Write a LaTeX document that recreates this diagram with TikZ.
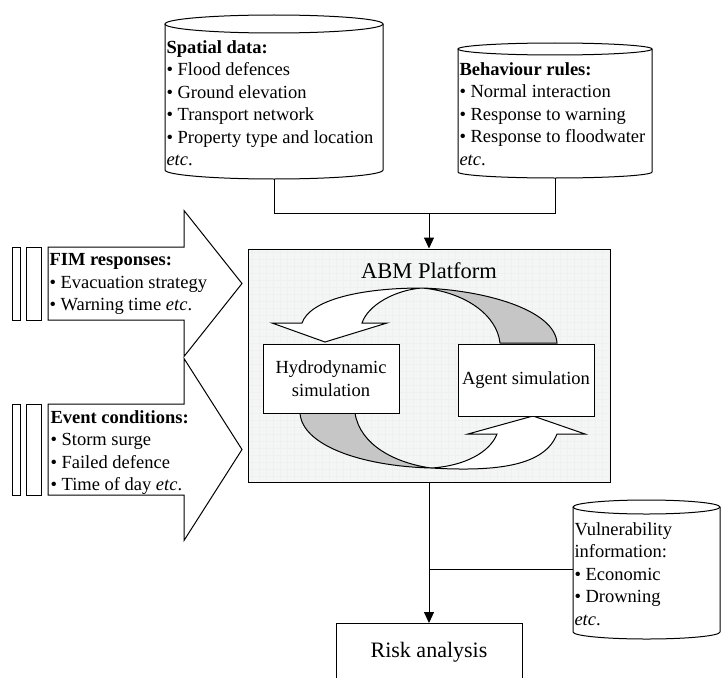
\documentclass[tikz,border=0pt]{standalone}
\usepackage{fontspec}
\setmainfont{Liberation Serif}
\usetikzlibrary{arrows.meta}
\definecolor{platform}{RGB}{244,246,246}
\newcommand{\dbcyl}[5]{%
  \draw (#1,-#3) -- (#1,-#4) arc[start angle=180,end angle=360,x radius={(#2-#1)/2*1pt},y radius=#5pt] -- (#2,-#3);
  \draw ({(#1+#2)/2},-#3) ellipse[x radius={(#2-#1)/2*1pt},y radius=#5pt];}
\begin{document}
\begin{tikzpicture}[x=1pt,y=1pt,line width=1pt,font=\fontsize{18.5}{22.5}\selectfont,
    txt/.style={anchor=north west,inner sep=0pt,align=left},
    box/.style={draw,fill=white,align=center,minimum width=136pt},
    arr/.style={-{Triangle[length=11pt,width=10pt]}}]
  \useasboundingbox (0,0) rectangle (722,-677);
  \dbcyl{165}{383}{24}{170}{9}
  \dbcyl{458}{652}{49}{172}{6}
  \dbcyl{573}{720}{507}{632}{7}
  \coordinate (sb) at (274,-179);
  \coordinate (bb) at (555,-178);
  \coordinate (vl) at (573,-569);
  \coordinate (j1) at (429,-213);
  \node[txt] (spat) at (166,-40) {\textbf{Spatial data:}\\\textbullet~Flood defences\\\textbullet~Ground elevation\\\textbullet~Transport network\\\textbullet~Property type and location\\\textit{etc}.};
  \node[txt] (behav) at (459,-62) {\textbf{Behaviour rules:}\\\textbullet~Normal interaction\\\textbullet~Response to warning\\\textbullet~Response to floodwater\\\textit{etc}.};
  \node[txt] (vuln) at (574,-522) {Vulnerability\\information:\\\textbullet~Economic\\\textbullet~Drowning\\\textit{etc}.};
  \foreach \yt/\yb in {247/320,404/495}{
    \draw (48,-\yt) -- (184,-\yt) -- (184,{-1.5*\yt+0.5*\yb}) -- (242,{-(\yt+\yb)/2}) -- (184,{-1.5*\yb+0.5*\yt}) -- (184,-\yb) -- (48,-\yb) -- cycle;
    \draw (12,-\yt) rectangle (20,-\yb) (26,-\yt) rectangle (41,-\yb);}
  \node[txt] (fim) at (49,-253) {\textbf{FIM responses:}\\\textbullet~Evacuation strategy\\\textbullet~Warning time \textit{etc}.};
  \node[txt] (event) at (50,-410) {\textbf{Event conditions:}\\\textbullet~Storm surge\\\textbullet~Failed defence\\\textbullet~Time of day \textit{etc}.};
  \node[draw,fill=platform,minimum width=362pt,minimum height=233pt] (abm) at (429,-365.5) {};
  \draw[gray!12,line width=0.3pt,step=7] (249,-481) grid (609,-250);
  \node[anchor=base,font=\fontsize{22.5}{27}\selectfont] (abmt) at (429,-278) {ABM Platform};
  \coordinate (x1) at (422,-288);
  \coordinate (x2) at (431,-468);
  \draw[fill=white] (x1) .. controls (360,-288) and (310,-300) .. (302,-323) -- (272,-323) -- (325,-342) -- (387,-323) -- (362,-323) .. controls (368,-305) and (395,-290) .. (x1) -- cycle;
  \draw[fill=gray!45] (x1) .. controls (485,-290) and (555,-310) .. (557,-343) -- (500,-343) .. controls (497,-315) and (465,-292) .. (x1) -- cycle;
  \draw[fill=gray!45] (300,-413) .. controls (302,-445) and (360,-466) .. (x2) .. controls (395,-463) and (360,-445) .. (355,-413) -- cycle;
  \draw[fill=white] (x2) .. controls (500,-472) and (545,-465) .. (557,-434) -- (585,-434) -- (533,-416) -- (468,-434) -- (497,-434) .. controls (490,-452) and (465,-466) .. (x2) -- cycle;
  \node[box,minimum height=69pt] (hydro) at (331,-378.5) {Hydrodynamic\\simulation};
  \node[box,minimum height=72pt] (agent) at (526,-380) {Agent simulation};
  \node[draw,anchor=north,minimum width=186pt,inner ysep=0pt,text height=34pt,text depth=45pt,font=\fontsize{22}{26}\selectfont] (risk) at (429,-623) {Risk analysis};
  \draw (sb) -- ++(0,-34) -| (bb);
  \draw[arr] (j1) -- (abm.north);
  \draw[arr] (abm.south) -- (risk.north);
  \draw (vl) -- (vl -| abm.south);
\end{tikzpicture}
\end{document}
